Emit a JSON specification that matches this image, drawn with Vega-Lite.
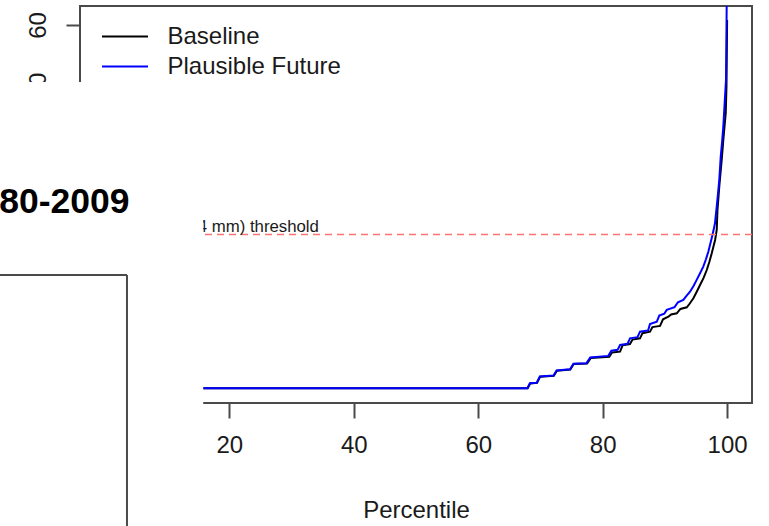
{
  "$schema": "https://vega.github.io/schema/vega-lite/v6.json",
  "width": 672,
  "height": 397,
  "autosize": {"type": "none"},
  "padding": {"left": 80, "top": 6, "right": 17, "bottom": 123},
  "background": "white",
  "config": {
    "view": {"stroke": "#4a4a4a", "strokeWidth": 2},
    "font": "Liberation Sans",
    "axis": {
      "domain": false,
      "grid": false,
      "ticks": true,
      "tickColor": "#4a4a4a",
      "tickWidth": 2,
      "labelColor": "#1a1a1a",
      "labelFont": "Liberation Sans",
      "labelFontSize": 24,
      "titleFont": "Liberation Sans",
      "titleFontSize": 24,
      "titleFontWeight": "normal",
      "titleColor": "#1a1a1a",
      "labelOverlap": false,
      "labelFlush": false,
      "zindex": 0
    }
  },
  "layer": [
    {
      "data": {
        "values": [
          {"p": 0, "v": 0, "series": "Baseline"},
          {"p": 67.95, "v": 0, "series": "Baseline"},
          {"p": 68.35, "v": 0.8, "series": "Baseline"},
          {"p": 69.45, "v": 0.9, "series": "Baseline"},
          {"p": 69.95, "v": 1.9, "series": "Baseline"},
          {"p": 72.15, "v": 2.05, "series": "Baseline"},
          {"p": 72.65, "v": 2.9, "series": "Baseline"},
          {"p": 74.8, "v": 3.1, "series": "Baseline"},
          {"p": 75.35, "v": 4.0, "series": "Baseline"},
          {"p": 77.5, "v": 4.1, "series": "Baseline"},
          {"p": 78.1, "v": 5.0, "series": "Baseline"},
          {"p": 81.07, "v": 5.2, "series": "Baseline"},
          {"p": 81.5, "v": 5.9, "series": "Baseline"},
          {"p": 82.79, "v": 6.05, "series": "Baseline"},
          {"p": 83.2, "v": 7.1, "series": "Baseline"},
          {"p": 84.39, "v": 7.3, "series": "Baseline"},
          {"p": 84.8, "v": 8.05, "series": "Baseline"},
          {"p": 86.0, "v": 8.25, "series": "Baseline"},
          {"p": 86.4, "v": 9.1, "series": "Baseline"},
          {"p": 87.61, "v": 9.34, "series": "Baseline"},
          {"p": 88.0, "v": 10.1, "series": "Baseline"},
          {"p": 89.22, "v": 10.3, "series": "Baseline"},
          {"p": 89.7, "v": 11.4, "series": "Baseline"},
          {"p": 90.56, "v": 11.82, "series": "Baseline"},
          {"p": 91.0, "v": 12.2, "series": "Baseline"},
          {"p": 91.91, "v": 12.38, "series": "Baseline"},
          {"p": 92.5, "v": 13.1, "series": "Baseline"},
          {"p": 93.52, "v": 13.37, "series": "Baseline"},
          {"p": 94.0, "v": 14.0, "series": "Baseline"},
          {"p": 94.58, "v": 14.86, "series": "Baseline"},
          {"p": 95.1, "v": 15.9, "series": "Baseline"},
          {"p": 95.65, "v": 17.06, "series": "Baseline"},
          {"p": 96.2, "v": 18.2, "series": "Baseline"},
          {"p": 96.73, "v": 19.53, "series": "Baseline"},
          {"p": 97.15, "v": 20.9, "series": "Baseline"},
          {"p": 97.53, "v": 22.29, "series": "Baseline"},
          {"p": 98.07, "v": 24.49, "series": "Baseline"},
          {"p": 98.33, "v": 26.14, "series": "Baseline"},
          {"p": 98.45, "v": 29.4, "series": "Baseline"},
          {"p": 98.74, "v": 33.29, "series": "Baseline"},
          {"p": 99.13, "v": 37.7, "series": "Baseline"},
          {"p": 99.39, "v": 41.0, "series": "Baseline"},
          {"p": 99.78, "v": 45.46, "series": "Baseline"},
          {"p": 99.9, "v": 50.0, "series": "Baseline"},
          {"p": 100, "v": 60.82, "series": "Baseline"},
          {"p": 0, "v": 0, "series": "Plausible Future"},
          {"p": 67.9, "v": 0, "series": "Plausible Future"},
          {"p": 68.3, "v": 0.85, "series": "Plausible Future"},
          {"p": 69.4, "v": 0.92, "series": "Plausible Future"},
          {"p": 69.9, "v": 1.95, "series": "Plausible Future"},
          {"p": 72.1, "v": 2.1, "series": "Plausible Future"},
          {"p": 72.6, "v": 2.95, "series": "Plausible Future"},
          {"p": 74.75, "v": 3.15, "series": "Plausible Future"},
          {"p": 75.3, "v": 4.05, "series": "Plausible Future"},
          {"p": 77.4, "v": 4.15, "series": "Plausible Future"},
          {"p": 78.0, "v": 5.1, "series": "Plausible Future"},
          {"p": 80.9, "v": 5.35, "series": "Plausible Future"},
          {"p": 81.4, "v": 6.2, "series": "Plausible Future"},
          {"p": 82.4, "v": 6.35, "series": "Plausible Future"},
          {"p": 82.8, "v": 7.15, "series": "Plausible Future"},
          {"p": 84.0, "v": 7.35, "series": "Plausible Future"},
          {"p": 84.4, "v": 8.25, "series": "Plausible Future"},
          {"p": 85.6, "v": 8.45, "series": "Plausible Future"},
          {"p": 86.0, "v": 9.35, "series": "Plausible Future"},
          {"p": 87.3, "v": 9.55, "series": "Plausible Future"},
          {"p": 87.6, "v": 10.6, "series": "Plausible Future"},
          {"p": 88.7, "v": 11.0, "series": "Plausible Future"},
          {"p": 89.1, "v": 12.0, "series": "Plausible Future"},
          {"p": 89.9, "v": 12.3, "series": "Plausible Future"},
          {"p": 90.3, "v": 12.95, "series": "Plausible Future"},
          {"p": 91.55, "v": 13.4, "series": "Plausible Future"},
          {"p": 92.1, "v": 14.2, "series": "Plausible Future"},
          {"p": 92.96, "v": 14.6, "series": "Plausible Future"},
          {"p": 93.5, "v": 15.3, "series": "Plausible Future"},
          {"p": 94.04, "v": 15.95, "series": "Plausible Future"},
          {"p": 94.6, "v": 16.9, "series": "Plausible Future"},
          {"p": 95.11, "v": 17.9, "series": "Plausible Future"},
          {"p": 95.65, "v": 19.0, "series": "Plausible Future"},
          {"p": 96.17, "v": 20.1, "series": "Plausible Future"},
          {"p": 96.6, "v": 21.3, "series": "Plausible Future"},
          {"p": 96.98, "v": 22.56, "series": "Plausible Future"},
          {"p": 97.52, "v": 24.77, "series": "Plausible Future"},
          {"p": 97.8, "v": 26.0, "series": "Plausible Future"},
          {"p": 98.05, "v": 27.25, "series": "Plausible Future"},
          {"p": 98.33, "v": 30.0, "series": "Plausible Future"},
          {"p": 98.55, "v": 32.3, "series": "Plausible Future"},
          {"p": 98.74, "v": 34.4, "series": "Plausible Future"},
          {"p": 98.97, "v": 38.24, "series": "Plausible Future"},
          {"p": 99.2, "v": 40.8, "series": "Plausible Future"},
          {"p": 99.39, "v": 43.2, "series": "Plausible Future"},
          {"p": 99.6, "v": 47.0, "series": "Plausible Future"},
          {"p": 99.82, "v": 50.9, "series": "Plausible Future"},
          {"p": 99.93, "v": 63.0, "series": "Plausible Future"},
          {"p": 100, "v": 75.0, "series": "Plausible Future"}
        ]
      },
      "mark": {"type": "line", "clip": true, "strokeWidth": 2},
      "encoding": {
        "x": {
          "field": "p",
          "type": "quantitative",
          "title": "Percentile",
          "scale": {"domain": [-4, 104], "nice": false, "zero": false},
          "axis": {
            "values": [0, 20, 40, 60, 80, 100],
            "tickSize": 15,
            "labelPadding": 15,
            "labelBaseline": "top",
            "titleBaseline": "alphabetic",
            "titleY": 114
          }
        },
        "y": {
          "field": "v",
          "type": "quantitative",
          "title": null,
          "scale": {"domain": [-2.43, 63.13], "nice": false, "zero": false},
          "axis": {
            "values": [0, 10, 20, 30, 40, 50, 60],
            "tickSize": 14,
            "labelAngle": -90,
            "labelAlign": "center",
            "labelBaseline": "alphabetic",
            "labelPadding": 21
          }
        },
        "color": {
          "field": "series",
          "type": "nominal",
          "sort": ["Baseline", "Plausible Future"],
          "scale": {"domain": ["Baseline", "Plausible Future"], "range": ["#000000", "#0000ff"]},
          "legend": {
            "orient": "none",
            "legendX": 32.5,
            "legendY": 18,
            "title": null,
            "symbolType": "M-2,0L2,0",
            "symbolSize": 529,
            "symbolStrokeWidth": 2,
            "labelFontSize": 24,
            "labelFont": "Liberation Sans",
            "labelColor": "#1a1a1a",
            "labelLimit": 500,
            "labelOffset": 30,
            "rowPadding": 5,
            "padding": 0
          }
        }
      }
    },
    {
      "data": {"values": [{}]},
      "mark": {"type": "rule", "color": "#ff7070", "strokeDash": [7, 5], "strokeWidth": 1.5},
      "encoding": {"y": {"datum": 25.4, "type": "quantitative", "title": null}}
    },
    {
      "data": {"values": [{}]},
      "mark": {"type": "text", "align": "right", "baseline": "alphabetic", "fontSize": 16.8, "font": "Liberation Sans", "color": "#1a1a1a"},
      "encoding": {
        "x": {"datum": 34.4, "type": "quantitative", "title": "Percentile"},
        "y": {"datum": 25.8, "type": "quantitative", "title": null},
        "text": {"value": "(25.4 mm) threshold"}
      }
    },
    {
      "data": {"values": [{}]},
      "mark": {"type": "rect", "fill": "white", "strokeWidth": 0},
      "encoding": {
        "x": {"datum": -20, "type": "quantitative", "title": "Percentile"},
        "x2": {"datum": 15.8},
        "y": {"datum": 50.58, "type": "quantitative", "title": null},
        "y2": {"datum": -25}
      }
    },
    {
      "data": {"values": [{}]},
      "mark": {"type": "text", "align": "right", "baseline": "alphabetic", "fontSize": 35.5, "fontWeight": "bold", "font": "Liberation Sans", "color": "#000000"},
      "encoding": {
        "x": {"datum": 3.95, "type": "quantitative", "title": "Percentile"},
        "y": {"datum": 28.95, "type": "quantitative", "title": null},
        "text": {"value": "80-2009"}
      }
    },
    {
      "data": {"values": [{}]},
      "mark": {"type": "rule", "color": "#4a4a4a", "strokeWidth": 2},
      "encoding": {
        "x": {"datum": -20, "type": "quantitative", "title": "Percentile"},
        "x2": {"datum": 3.55},
        "y": {"datum": 18.71, "type": "quantitative", "title": null}
      }
    },
    {
      "data": {"values": [{}]},
      "mark": {"type": "rule", "color": "#4a4a4a", "strokeWidth": 2},
      "encoding": {
        "x": {"datum": 3.55, "type": "quantitative", "title": "Percentile"},
        "y": {"datum": 18.71, "type": "quantitative", "title": null},
        "y2": {"datum": -25}
      }
    }
  ]
}
